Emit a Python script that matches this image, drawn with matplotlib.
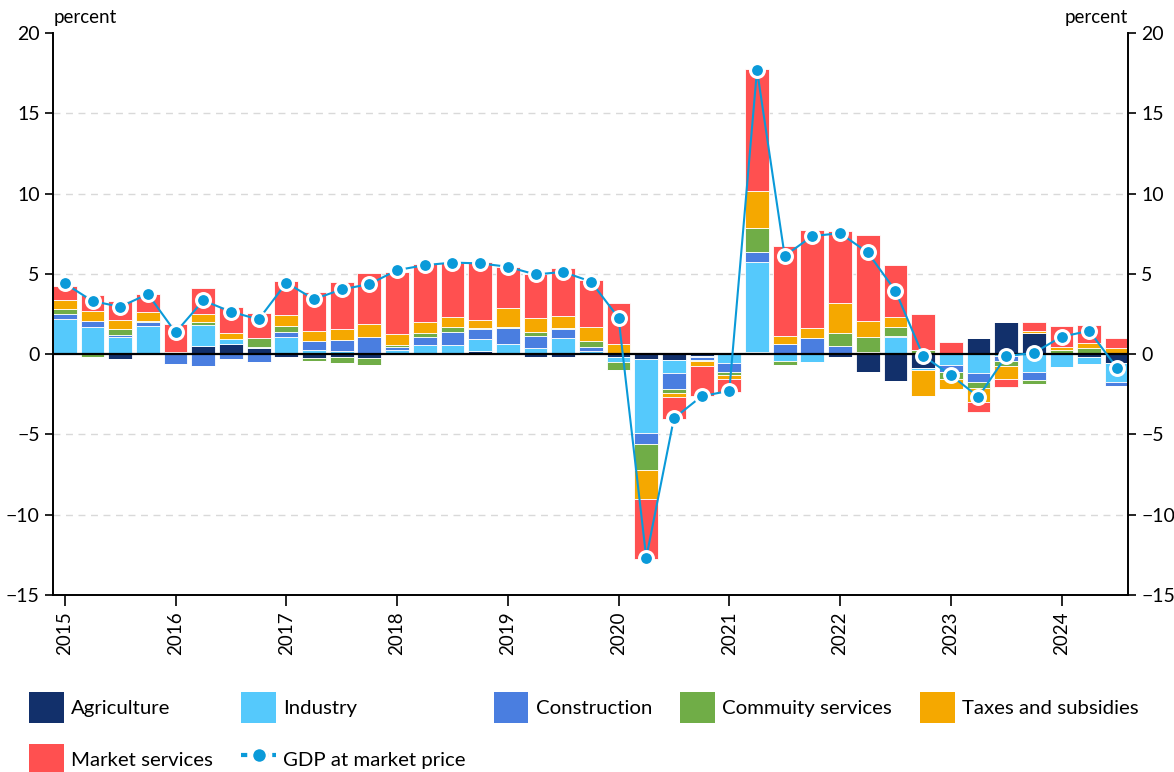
import matplotlib
matplotlib.use("Agg")
import matplotlib.pyplot as plt
import numpy as np
from matplotlib.lines import Line2D
from matplotlib.patches import Patch

plt.rcParams['font.family'] = ['Lato', 'DejaVu Sans']

# quarterly contributions, 2015Q1 .. 2024Q3
quarters = [f"{y}Q{q}" for y in range(2015, 2025) for q in range(1, 5)][:39]
years = [str(y) for y in range(2015, 2025)]

agriculture = [0.1, 0, -0.31, 0, 0, 0.5, 0.66, 0.35, -0.15, -0.25,
               -0.19, -0.25, 0, 0.1, 0.1, 0.2, 0, -0.15, -0.15, 0,
               -0.2, -0.31, -0.37, -0.1, 0.1, 0.15, 0, 0, -0.17, -1.1,
               -1.68, -0.85, 0, 1.02, 2.01, 1.33, 0, -0.17, -0.58]
industry = [2.1, 1.7, 1.08, 1.77, 0, 1.3, 0.29, 0.08, 1.08, 0.27,
            0.17, 0.1, 0.27, 0.48, 0.46, 0.77, 0.66, 0.37, 0.98, 0.17,
            -0.27, -4.59, -0.83, -0.1, -0.54, 5.56, -0.42, -0.48, 0, 0.05,
            1.04, -0.17, -0.68, -1.2, -0.1, -1.1, -0.79, -0.42, -1.14]
construction = [0.3, 0.37, 0.08, 0.2, -0.62, -0.73, -0.31, -0.52, 0.27, 0.52,
                0.7, 0.98, 0.19, 0.5, 0.83, 0.58, 0.95, 0.77, 0.58, 0.29,
                0.1, -0.71, -1.0, -0.15, -0.56, 0.68, 0.62, 1.02, 0.52, 0.1,
                0.1, 0, -0.42, -0.52, -0.35, -0.52, 0, 0.1, -0.27]
community = [0.3, -0.2, 0.4, 0.1, 0.08, 0.19, 0, 0.56, 0.42, -0.2,
             -0.37, -0.42, 0.1, 0.21, 0.27, 0.05, 0.08, 0.25, 0.06, 0.33,
             -0.52, -1.58, -0.21, -0.1, -0.21, 1.49, -0.27, 0, 0.79, 0.93,
             0.56, 0.27, -0.42, -0.42, -0.3, -0.25, 0.27, 0.25, 0.1]
taxes = [0.6, 0.62, 0.58, 0.56, 0.06, 0.5, 0.39, 0, 0.69, 0.66,
         0.68, 0.79, 0.68, 0.68, 0.68, 0.54, 1.16, 0.89, 0.75, 0.87,
         0.56, -1.81, -0.29, -0.31, -0.27, 2.28, 0.5, 0.58, 1.89, 0.98,
         0.62, -1.6, -0.66, -0.83, -0.83, 0.1, 0.15, 0.37, 0.27]
market = [0.87, 0.98, 1.18, 1.1, 1.76, 1.6, 1.6, 1.58, 2.07, 2.39,
          2.97, 3.16, 3.9, 3.63, 3.36, 3.57, 2.57, 2.74, 2.97, 2.97,
          2.5, -3.74, -1.37, -1.85, -0.77, 7.58, 5.6, 6.16, 4.46, 5.35,
          3.26, 2.25, 0.77, -0.62, -0.46, 0.54, 1.35, 1.1, 0.66]
gdp = [4.4, 3.3, 2.95, 3.74, 1.35, 3.34, 2.64, 2.16, 4.44, 3.42,
       4.03, 4.36, 5.23, 5.54, 5.7, 5.65, 5.44, 4.96, 5.12, 4.52,
       2.26, -12.68, -4.0, -2.62, -2.29, 17.7, 6.12, 7.35, 7.53, 6.33,
       3.94, -0.1, -1.31, -2.66, -0.12, 0.08, 1.08, 1.45, -0.85]

series = [
    ("Agriculture", agriculture, "#12306B"),
    ("Industry", industry, "#55C9FC"),
    ("Construction", construction, "#4A7EE0"),
    ("Commuity services", community, "#70AD47"),
    ("Taxes and subsidies", taxes, "#F5A800"),
    ("Market services", market, "#FF5050"),
]

fig = plt.figure(figsize=(11.74, 7.72), dpi=100)
ax = fig.add_axes([0.0451, 0.2293, 0.9157, 0.728])

x = np.arange(len(quarters))
pos_base = np.zeros(len(x))
neg_base = np.zeros(len(x))
for name, vals, col in series:
    v = np.array(vals, dtype=float)
    pos = np.where(v > 0, v, 0)
    neg = np.where(v < 0, v, 0)
    ax.bar(x, pos, 0.86, bottom=pos_base, color=col, edgecolor='white', linewidth=0.6, zorder=2)
    ax.bar(x, neg, 0.86, bottom=neg_base, color=col, edgecolor='white', linewidth=0.6, zorder=2)
    pos_base += pos
    neg_base += neg

ax.plot(x, gdp, color='#0A9AD9', lw=1.5, marker='o', ms=10,
        mfc='#0A9AD9', mec='white', mew=2.2, zorder=4)

for g in [-10, -5, 5, 10, 15]:
    ax.axhline(g, color='#D9D9D9', lw=1, ls=(0, (5, 4)), zorder=0)
ax.axhline(0, color='black', lw=1.6, zorder=3)

ax.set_xlim(-0.43, 38.4)
ax.set_ylim(-15, 20)
ax.set_yticks(range(-15, 21, 5))
ax.set_xticks(np.arange(0, 39, 4))
ax.set_xticklabels(years, rotation=90, fontsize=13.5)
ax.tick_params(axis='y', labelsize=14, length=6, width=1.2,
               left=True, right=True, labelleft=True, labelright=True)
ax.tick_params(axis='x', length=8, width=1.2, pad=4)
ax.spines['top'].set_visible(False)
for s in ['left', 'right', 'bottom']:
    ax.spines[s].set_linewidth(1.4)

fig.text(0.046, 0.966, "percent", fontsize=13.5, ha='left', va='bottom')
fig.text(0.961, 0.966, "percent", fontsize=13.5, ha='right', va='bottom')

handles = {name: Patch(facecolor=col, edgecolor='none') for name, _, col in series}
gdp_handle = Line2D([], [], color='#0A9AD9', lw=3, ls=(0, (1.5, 1)), marker='o', ms=11,
                    mfc='#0A9AD9', mec='white', mew=2)
order = ["Agriculture", "Market services", "Industry", "GDP at market price",
         "Construction", "Commuity services", "Taxes and subsidies"]
hs = [gdp_handle if n == "GDP at market price" else handles[n] for n in order]
fig.legend(hs, order, loc='upper left', bbox_to_anchor=(0.025, 0.104), ncol=5,
           frameon=False, fontsize=14.7, handlelength=1.7, handleheight=2.0,
           handletextpad=0.35, columnspacing=1.38, labelspacing=1.0, borderpad=0,
           borderaxespad=0)

fig.savefig("out.png", dpi=100)
